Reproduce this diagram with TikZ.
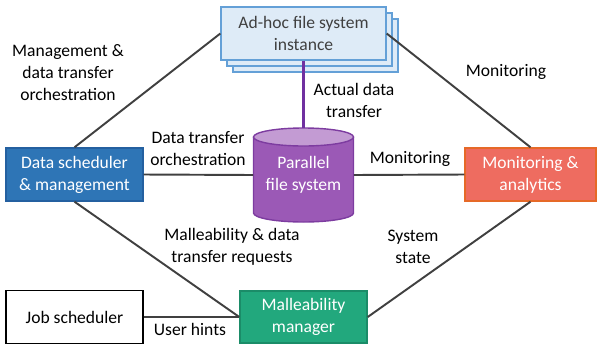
\documentclass[tikz,border=0pt]{standalone}
\usepackage{fontspec}
\setmainfont{Carlito}
\usetikzlibrary{positioning}

\definecolor{adhocfill}{RGB}{222,235,247}
\definecolor{adhocline}{RGB}{100,160,215}
\definecolor{textgray}{RGB}{64,64,64}
\definecolor{dsfill}{RGB}{46,117,182}
\definecolor{dsline}{RGB}{36,96,160}
\definecolor{pfsbody}{RGB}{155,89,182}
\definecolor{pfstop}{RGB}{195,155,211}
\definecolor{pfsline}{RGB}{125,60,160}
\definecolor{datapurple}{RGB}{112,48,160}
\definecolor{monfill}{RGB}{238,108,96}
\definecolor{monline}{RGB}{230,105,40}
\definecolor{mallfill}{RGB}{34,168,125}
\definecolor{mallline}{RGB}{27,140,104}
\definecolor{linkgray}{RGB}{64,64,64}

\tikzset{
  box/.style={draw, line width=0.8pt, align=center, inner sep=0pt,
    minimum height=1.06cm, font=\fontsize{10}{12.5}\selectfont},
  link/.style={draw=linkgray, line width=1.1pt},
  lbl/.style={align=center, inner sep=0pt, font=\fontsize{10}{12.5}\selectfont},
}

\begin{document}
\begin{tikzpicture}[x=0.02cm, y=-0.02cm]%
  \useasboundingbox (0,0) rectangle (597,345);

  % Ad-hoc file system instance (stacked copies behind).
  \foreach \d in {12,6}
  \node[box, fill=adhocfill, draw=adhocline, minimum width=3.3cm] (adhoc\d) at (303.5+\d,33.5+\d) {};
  \node[box, fill=adhocfill, draw=adhocline, text=textgray, minimum width=3.3cm] (adhoc) at (303.5,33.5) {Ad-hoc file system\\instance};

  % Parallel file system cylinder.
  \fill[pfsbody] (253.5,137) rectangle (353.5,213);
  \fill[pfsbody] (303.5,213) ellipse [x radius=50, y radius=9];
  \draw[pfsline, line width=0.8pt] (253.5,137) -- (253.5,213) arc[start angle=180, end angle=0, x radius=50, y radius=9] -- (353.5,137);
  \draw[pfsline, line width=0.8pt, fill=pfstop] (303.5,137) ellipse [x radius=50, y radius=9];
  \node[lbl, text=white, minimum width=2cm, minimum height=1.88cm] (pfs) at (303.5,175) {Parallel\\file system};

  % Other components.
  \node[box, fill=dsfill, draw=dsline, text=white, minimum width=2.74cm] (ds) at (74.5,174.5) {Data scheduler\\\& management};
  \node[box, fill=monfill, draw=monline, text=white, minimum width=2.62cm] (mon) at (530.5,174.5) {Monitoring \&\\analytics};
  \node[box, fill=white, draw=black, minimum width=2.74cm] (job) at (74.5,317) {Job scheduler};
  \node[box, fill=mallfill, draw=mallline, text=white, minimum width=2.54cm, minimum height=1.04cm] (mall) at (303.5,317) {Malleability\\manager};

  % Connections.
  \draw[link] (ds.north) -- (adhoc.west);
  \draw[link] (adhoc.east) -- (mon.north);
  \draw[link] (ds.east) -- (pfs.west);
  \draw[link] (pfs.east) -- (mon.west);
  \draw[link] (ds.south) -- (mall.west);
  \draw[link] (mon.south) -- (mall.east);
  \draw[link] (job.east) -- (mall.west);
  \draw[draw=datapurple, line width=1.3pt] (adhoc.south) -- (pfs.north);

  % Labels.
  \node[lbl] (lblmgmt) at (68,73) {Management \&\\data transfer\\orchestration};
  \node[lbl] (lblactual) at (354,100) {Actual data\\transfer};
  \node[lbl] (lblmontop) at (506,72) {Monitoring};
  \node[lbl] (lblorch) at (198,149) {Data transfer\\orchestration};
  \node[lbl] (lblmonmid) at (410,159) {Monitoring};
  \node[lbl] (lblreq) at (232,247) {Malleability \& data\\transfer requests};
  \node[lbl] (lblstate) at (413,247) {System\\state};
  \node[lbl] (lblhints) at (190,329) {User hints};

\end{tikzpicture}
\end{document}
